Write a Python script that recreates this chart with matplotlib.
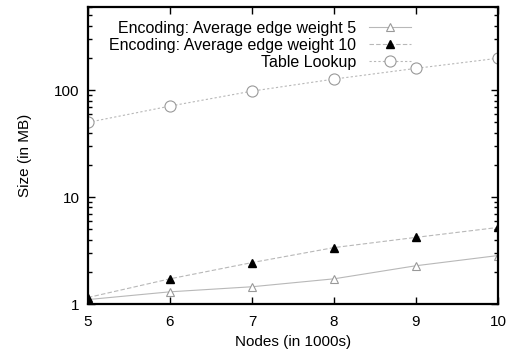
import matplotlib
matplotlib.use("Agg")
import matplotlib.pyplot as plt
from matplotlib.ticker import LogLocator, NullFormatter

plt.rcParams['font.family'] = ['Liberation Sans', 'DejaVu Sans']

nodes = [5, 6, 7, 8, 9, 10]
enc5 = [1.1, 1.3, 1.45, 1.72, 2.28, 2.84]
enc10 = [1.15, 1.72, 2.44, 3.37, 4.2, 5.2]
table = [50, 71, 98, 127, 160, 199]
labels = ["Encoding: Average edge weight 5", "Encoding: Average edge weight 10", "Table Lookup"]

fig = plt.figure(figsize=(5.11, 3.58), dpi=100)
ax = fig.add_axes([88/511, 1 - 304/358, (498-88)/511, (304-7)/358])

c = '#b8b8b8'
ax.plot(nodes, enc5, color=c, lw=0.8, ls='-', marker='^', mfc='white', mec='#999999', ms=6, mew=0.8, label=labels[0])
ax.plot(nodes, enc10, color=c, lw=0.8, ls=(0, (4, 2)), marker='^', mfc='black', mec='black', ms=6, label=labels[1])
ax.plot(nodes, table, color=c, lw=0.8, ls=(0, (2, 2)), marker='o', mfc='white', mec='#999999', ms=8, mew=0.8, label=labels[2])

ax.set_yscale('log')
ax.set_xlim(5, 10)
ax.set_ylim(1, 600)
ax.set_xticks(nodes)
ax.set_yticks([1, 10, 100])
ax.set_yticklabels(['1', '10', '100'])
ax.yaxis.set_minor_locator(LogLocator(base=10, subs=range(2, 10)))
ax.yaxis.set_minor_formatter(NullFormatter())
ax.tick_params(which='both', direction='in', top=True, right=True, labelsize=11, colors='black')
ax.tick_params(which='major', length=5, width=1)
ax.tick_params(which='minor', length=3, width=1)
ax.tick_params(axis='x', pad=8)
ax.tick_params(axis='y', pad=6)
for s in ax.spines.values():
    s.set_linewidth(1.6)

ax.set_xlabel('Nodes (in 1000s)', fontsize=11)
ax.set_ylabel('Size (in MB)', fontsize=11, labelpad=16)

leg = ax.legend(loc='upper right', bbox_to_anchor=(0.81, 0.985), frameon=False, fontsize=11.5,
                markerfirst=False, handlelength=2.6, labelspacing=0.12, borderaxespad=0.2)
for t in leg.get_texts():
    t.set_ha('right')
leg._legend_box.align = 'right'

fig.savefig('out.png', dpi=100)
